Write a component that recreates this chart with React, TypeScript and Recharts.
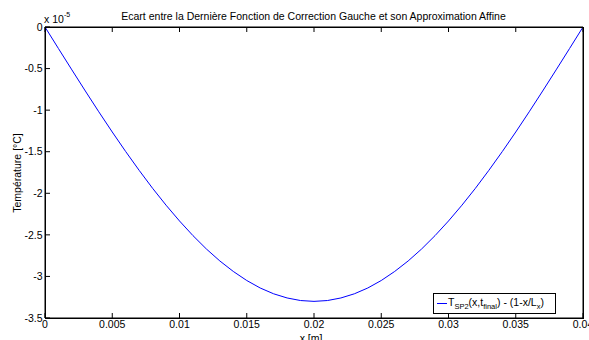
import { LineChart, Line, XAxis, YAxis, Legend } from "recharts";

// x positions [m]
const positions = [
  0, 0.001, 0.002, 0.003, 0.004, 0.005, 0.006, 0.007, 0.008, 0.009, 0.01,
  0.011, 0.012, 0.013, 0.014, 0.015, 0.016, 0.017, 0.018, 0.019, 0.02,
  0.021, 0.022, 0.023, 0.024, 0.025, 0.026, 0.027, 0.028, 0.029, 0.03,
  0.031, 0.032, 0.033, 0.034, 0.035, 0.036, 0.037, 0.038, 0.039, 0.04,
];
// ecart, in units of 1e-5 °C
const ecart = [
  0, -0.259, -0.516, -0.77, -1.02, -1.263, -1.498, -1.724, -1.94, -2.143, -2.333,
  -2.509, -2.67, -2.814, -2.94, -3.049, -3.139, -3.209, -3.259, -3.29, -3.3,
  -3.29, -3.259, -3.209, -3.139, -3.049, -2.94, -2.814, -2.67, -2.509, -2.333,
  -2.143, -1.94, -1.724, -1.498, -1.263, -1.02, -0.77, -0.516, -0.259, 0,
];
const xTicks = [0, 0.005, 0.01, 0.015, 0.02, 0.025, 0.03, 0.035, 0.04];
const yTicks = [0, -0.5, -1, -1.5, -2, -2.5, -3, -3.5];

const data = positions.map((x, i) => ({ x, v: ecart[i] }));

const font = "'Liberation Sans', Arial, Helvetica, sans-serif";
const TICK = 5;

// matlab style: tick marks pointing into the plot
const BottomTick = (props: any) => {
  const { x, y, payload } = props;
  return (
    <g>
      <line x1={x} y1={y} x2={x} y2={y - TICK} stroke="#000" />
      <text x={x} y={y + 3} dy="0.71em" textAnchor="middle" fontSize={10.5} fontFamily={font} fill="#000">
        {payload.value}
      </text>
    </g>
  );
};
const TopTick = (props: any) => {
  const { x, y } = props;
  return <line x1={x} y1={y} x2={x} y2={y + TICK} stroke="#000" />;
};
const LeftTick = (props: any) => {
  const { x, y, payload } = props;
  return (
    <g>
      <line x1={x} y1={y} x2={x + TICK} y2={y} stroke="#000" />
      <text x={x - 2.5} y={y} dy="0.355em" textAnchor="end" fontSize={10.5} fontFamily={font} fill="#000">
        {payload.value}
      </text>
    </g>
  );
};
const RightTick = (props: any) => {
  const { x, y } = props;
  return <line x1={x} y1={y} x2={x - TICK} y2={y} stroke="#000" />;
};

const LegendBox = () => (
  <div
    style={{
      width: 123,
      height: 21,
      boxSizing: "border-box",
      border: "1px solid #000",
      background: "#fff",
      display: "flex",
      alignItems: "center",
      paddingLeft: 3,
      fontFamily: font,
      fontSize: 10.5,
      color: "#000",
      whiteSpace: "nowrap",
      lineHeight: 1,
    }}
  >
    <div style={{ width: 10, height: 1, background: "#0000ff", marginRight: 1, flexShrink: 0 }} />
    <span>
      T<sub style={{ fontSize: 7.5 }}>SP2</sub>(x,t<sub style={{ fontSize: 7.5 }}>final</sub>) - (1-x/L
      <sub style={{ fontSize: 7.5 }}>x</sub>)
    </span>
  </div>
);

const App = () => {
  return (
    <div style={{ position: "absolute", left: 0, top: 0, width: 589, height: 340, background: "#fff" }}>
      <LineChart
        width={589}
        height={340}
        data={data}
        margin={{ top: 17, right: 0, bottom: 0, left: 0 }}
      >
        <XAxis
          dataKey="x"
          type="number"
          domain={[0, 0.04]}
          ticks={xTicks}
          height={22}
          tickSize={0}
          tickMargin={0}
          tickLine={false}
          tick={<BottomTick />}
          stroke="#000"
          interval={0}
        />
        <XAxis
          xAxisId="top"
          dataKey="x"
          orientation="top"
          type="number"
          domain={[0, 0.04]}
          ticks={xTicks}
          height={10}
          tickSize={0}
          tickMargin={0}
          tickLine={false}
          tick={<TopTick />}
          stroke="#000"
          interval={0}
        />
        <YAxis
          type="number"
          domain={[-3.5, 0]}
          ticks={yTicks}
          width={45}
          tickSize={0}
          tickMargin={0}
          tickLine={false}
          tick={<LeftTick />}
          stroke="#000"
          interval={0}
        />
        <YAxis
          yAxisId="right"
          orientation="right"
          type="number"
          domain={[-3.5, 0]}
          ticks={yTicks}
          width={6}
          tickSize={0}
          tickMargin={0}
          tickLine={false}
          tick={<RightTick />}
          stroke="#000"
          interval={0}
        />
        <Line
          dataKey="v"
          type="linear"
          stroke="#0000ff"
          strokeWidth={1}
          dot={false}
          isAnimationActive={false}
        />
        <Legend
          layout="horizontal"
          verticalAlign="middle"
          align="center"
          content={() => <LegendBox />}
          wrapperStyle={{ left: 433, top: 293, width: 123 }}
        />
        <text x={313.5} y={19.5} textAnchor="middle" fontSize={10.5} fontFamily={font} fill="#000">
          Ecart entre la Dernière Fonction de Correction Gauche et son Approximation Affine
        </text>
        <text x={44} y={23} fontSize={10.5} fontFamily={font} fill="#000">
          x 10
        </text>
        <text x={64} y={17} fontSize={7} fontFamily={font} fill="#000">
          -5
        </text>
        <text
          x={17}
          y={173}
          transform="rotate(-90 17 173)"
          textAnchor="middle"
          dominantBaseline="central"
          fontSize={10.5}
          fontFamily={font}
          fill="#000"
        >
          Température [°C]
        </text>
        <text x={311} y={342} textAnchor="middle" fontSize={10.5} fontFamily={font} fill="#000">
          x [m]
        </text>
      </LineChart>
      {/* plot frame (axis lines did not show up on their own) */}
      <div
        style={{
          position: "absolute",
          left: 45,
          top: 27,
          width: 539,
          height: 292,
          boxSizing: "border-box",
          border: "1px solid #000",
          pointerEvents: "none",
        }}
      />
    </div>
  );
};

export default App;
